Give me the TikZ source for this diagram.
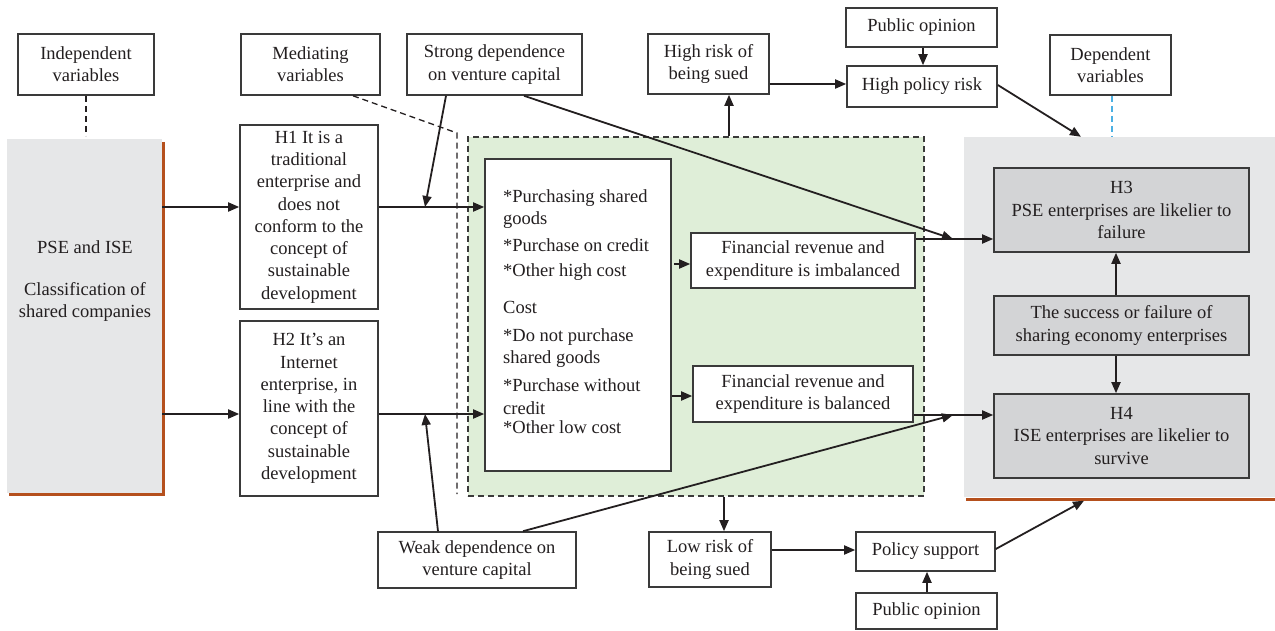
\documentclass[tikz,border=0pt]{standalone}
\usepackage{fontspec}
\setmainfont{Liberation Serif}
\usetikzlibrary{arrows.meta}
\definecolor{boxline}{HTML}{3A3A3A}
\definecolor{txt}{HTML}{231F20}
\definecolor{panelgray}{HTML}{E6E7E8}
\definecolor{hgray}{HTML}{D3D4D6}
\definecolor{lightgreen}{HTML}{DFEED8}
\definecolor{rust}{HTML}{B5501D}
\definecolor{skyblue}{HTML}{4CB0E3}
\newcommand\fsz{\fontsize{18.5pt}{22.3pt}\selectfont}
\begin{document}
\begin{tikzpicture}[x=1pt,y=-1pt,
  box/.style={draw=boxline, line width=1.6pt, fill=white, align=center,
              inner sep=0pt, font=\fsz, text=txt},
  gbox/.style={box, fill=hgray},
  sz/.style 2 args={minimum width=#1pt, minimum height=#2pt},
  itm/.style={anchor=base west, inner sep=0pt, font=\fsz, text=txt},
  arr/.style={draw=txt, line width=1.8pt, -{Triangle[length=11pt,width=9pt]}},
  dsh/.style={line width=1.3pt, dash pattern=on 6pt off 4pt},
  rustline/.style={draw=rust, line width=2.8pt}]
\useasboundingbox (0,0) rectangle (1275,631);

% background panels
\node[fill=panelgray, inner sep=0pt, sz={155}{354}] (lp) at (84.5,316) {};
\node[fill=lightgreen, draw=boxline, dsh, inner sep=0pt, sz={456}{359}] (grn) at (696,316.5) {};
\node[fill=panelgray, inner sep=0pt, sz={311}{360}] (rp) at (1119.5,317) {};
\draw[rustline] ([xshift=1.5pt,yshift=-3pt]lp.north east) -- ([xshift=1.5pt,yshift=-1.5pt]lp.south east)
                -- ([xshift=2pt,yshift=-1.5pt]lp.south west);
\draw[rustline] ([xshift=2pt,yshift=-2pt]rp.south west) -- ([yshift=-2pt]rp.south east);
\node[font=\fsz, text=txt, align=center, inner sep=0pt] (lpt) at (85,281)
  {PSE and ISE\\[19.7pt]Classification of\\shared companies};

% top row
\node[box, sz={136}{61}] (indep) at (86,64.5) {Independent\\variables};
\node[box, sz={139}{61}] (medi) at (310.5,64.5) {Mediating\\variables};
\node[box, sz={175}{61}] (strong) at (494.5,64.5) {Strong dependence\\on venture capital};
\node[box, sz={121}{60}] (highrisk) at (708.5,64) {High risk of\\being sued};
\node[box, sz={151}{39}] (pubtop) at (921.5,27.5) {Public opinion};
\node[box, sz={150}{41}] (hpr) at (922,86.5) {High policy risk};
\node[box, sz={121}{60}] (dep) at (1110.5,65) {Dependent\\variables};

% hypotheses H1, H2
\node[box, sz={138}{184}] (h1) at (309,217)
  {H1 It is a\\traditional\\enterprise and\\does not\\conform to the\\concept of\\sustainable\\development};
\node[box, sz={138}{175}] (h2) at (309,408.5)
  {H2 It's an\\Internet\\enterprise, in\\line with the\\concept of\\sustainable\\development};

% cost box
\node[box, sz={186}{312}] (inner) at (578,315) {};
\node[itm] (c1) at (503,202.5) {*Purchasing shared};
\node[itm] (c2) at (503,224.5) {goods};
\node[itm] (c3) at (503,251.5) {*Purchase on credit};
\node[itm] (c4) at (503,276.5) {*Other high cost};
\node[itm] (c5) at (503,313.5) {Cost};
\node[itm] (c6) at (503,341.5) {*Do not purchase};
\node[itm] (c7) at (503,363.5) {shared goods};
\node[itm] (c8) at (503,391.5) {*Purchase without};
\node[itm] (c9) at (503,414.5) {credit};
\node[itm] (c10) at (503,433.5) {*Other low cost};

\node[box, sz={224}{55}] (imb) at (803,260.5) {Financial revenue and\\expenditure is imbalanced};
\node[box, sz={220}{56}] (bal) at (803,394) {Financial revenue and\\expenditure is balanced};

% dependent side
\node[gbox, sz={255}{84}] (h3) at (1121.5,210) {H3\\PSE enterprises are likelier to\\failure};
\node[gbox, sz={255}{59}] (succ) at (1121.5,325.5) {The success or failure of\\sharing economy enterprises};
\node[gbox, sz={255}{84}] (h4) at (1121.5,436) {H4\\ISE enterprises are likelier to\\survive};

% bottom row
\node[box, sz={198}{56}] (weak) at (477,560) {Weak dependence on\\venture capital};
\node[box, sz={122}{55}] (lowrisk) at (710,559.5) {Low risk of\\being sued};
\node[box, sz={139}{39}] (polsup) at (925.5,551.5) {Policy support};
\node[box, sz={141}{36}] (pubbot) at (926.5,611) {Public opinion};

% routing coordinates
\coordinate (ya) at (0,207);
\coordinate (yb) at (0,414);
\coordinate (yc) at (0,239);
\coordinate (yd) at (0,415);
\coordinate (ye) at (0,264);
\coordinate (yf) at (0,396);
\coordinate (yg) at (0,84);
\coordinate (yh) at (0,550);
\coordinate (ja) at (425,207);
\coordinate (jb) at (425,414);
\coordinate (jc) at (953,239);
\coordinate (jd) at (953,415);
\coordinate (xa) at (729,0);
\coordinate (xb) at (923,0);
\coordinate (xc) at (1081,0);
\coordinate (xd) at (1112,0);
\coordinate (xe) at (1116,0);
\coordinate (xf) at (724,0);
\coordinate (xg) at (927,0);
\coordinate (xh) at (1084,0);
\coordinate (xi) at (353,0);
\coordinate (ma) at (457,133);
\coordinate (mb) at (457,494);

% dashed guides
\draw[dsh, draw=txt] (indep.south) -- ([yshift=3pt]indep.south |- lp.north);
\draw[dsh, draw=txt] (medi.south -| xi) -- (ma) -- (mb);
\draw[dsh, draw=skyblue] (dep.south -| xd) -- (rp.north -| xd);

% main flow
\draw[arr] (lp.east |- ya) -- (h1.west |- ya);
\draw[arr] (lp.east |- yb) -- (h2.west |- yb);
\draw[arr] (h1.east |- ya) -- (inner.west |- ya);
\draw[arr] (h2.east |- yb) -- (inner.west |- yb);
\draw[arr] ([xshift=-48.5pt]strong.south) -- (ja);
\draw[arr] ([xshift=-39pt]weak.north) -- (jb);
\draw[arr] ([xshift=29.5pt]strong.south) -- (jc);
\draw[arr] ([xshift=46pt]weak.north) -- (jd);
\draw[arr] ([xshift=2pt]inner.east |- ye) -- (imb.west |- ye);
\draw[arr] (inner.east |- yf) -- (bal.west |- yf);
\draw[arr] (imb.east |- yc) -- (h3.west |- yc);
\draw[arr] (bal.east |- yd) -- (h4.west |- yd);

% upper risk chain
\draw[arr] (grn.north -| xa) -- (highrisk.south -| xa);
\draw[arr] (highrisk.east |- yg) -- (hpr.west |- yg);
\draw[arr] (pubtop.south -| xb) -- (hpr.north -| xb);
\draw[arr] ([yshift=1.5pt]hpr.east) -- (rp.north -| xc);

% outcome links
\draw[arr] (succ.north -| xe) -- (h3.south -| xe);
\draw[arr] (succ.south -| xe) -- (h4.north -| xe);

% lower risk chain
\draw[arr] (grn.south -| xf) -- (lowrisk.north -| xf);
\draw[arr] (lowrisk.east |- yh) -- (polsup.west |- yh);
\draw[arr] (pubbot.north -| xg) -- (polsup.south -| xg);
\draw[arr] ([yshift=2.5pt]polsup.east) -- ([yshift=-3.5pt]rp.south -| xh);
\end{tikzpicture}
\end{document}
